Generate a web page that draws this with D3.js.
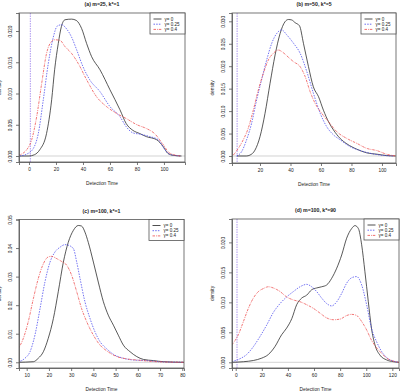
<!DOCTYPE html>
<html>
<head>
<meta charset="utf-8">
<script src="https://cdn.jsdelivr.net/npm/d3@7"></script>
<style>
  body { margin: 0; background: #fff; }
  svg { display: block; }
  text { font-family: "Liberation Sans", Arial, sans-serif; fill: #222; }
</style>
</head>
<body>
<svg id="chart" width="402" height="391"></svg>
<script>
// ---- data ----
var titles = ["(a) m=25, k*=1", "(b) m=50, k*=5", "(c) m=100, k*=1", "(d) m=100, k*=90"];
var legendLabels = ["\u03b3= 0", "\u03b3= 0.25", "\u03b3= 0.4"];
var kLine = [1, 5, null, 1];   // dashed vertical marker
var xTicks = [[0, 20, 40, 60, 80, 100], [20, 40, 60, 80, 100], [10, 20, 30, 40, 50, 60, 70, 80], [0, 20, 40, 60, 80, 100, 120]];
var yTicks = [[0, 0.005, 0.010, 0.015, 0.020], [0, 0.005, 0.010, 0.015, 0.020, 0.025, 0.030],
              [0, 0.01, 0.02, 0.03, 0.04, 0.05], [0, 0.005, 0.010, 0.015, 0.020]];
var yFormats = [".3f", ".3f", ".2f", ".3f"];

// [detection time, density]
var a0  = [[-7,0],[0,0],[4,0.0002],[8,0.001],[13,0.0036],[16.8,0.009],[19,0.0138],[21.7,0.018],[24,0.0207],[26.7,0.0218],[31.6,0.0219],[35,0.0217],[39,0.0204],[42.7,0.018],[46.4,0.0159],[52.6,0.0138],[60,0.0106],[67.4,0.0074],[72,0.0052],[77,0.0041],[82,0.0036],[87,0.0031],[94.6,0.0026],[99.5,0.0015],[103,0.0004],[107,0.0001],[113,0]];
var a25 = [[-7,0],[-1.7,0.0003],[3.2,0.0012],[6.9,0.0036],[10.6,0.009],[14.3,0.0148],[18,0.019],[21,0.0208],[24.2,0.021],[28,0.0203],[31.6,0.019],[35.3,0.017],[40,0.0143],[45,0.0122],[52.6,0.0103],[60,0.0079],[67.4,0.0063],[72,0.0047],[77,0.0037],[82,0.0035],[89.6,0.0031],[95.8,0.0026],[100.7,0.001],[104,0.0003],[112,0]];
var a40 = [[-8,0.0001],[-1.7,0.001],[2,0.0026],[5.7,0.0063],[9.4,0.0116],[13,0.0164],[15.6,0.018],[19,0.0186],[23,0.0185],[26.7,0.0175],[31.6,0.0164],[36.5,0.0148],[42.7,0.0122],[50,0.0095],[57.5,0.0079],[65,0.0068],[72,0.006],[80,0.005],[87,0.0044],[93,0.0036],[99.5,0.0018],[104,0.0005],[112,0]];

var b0  = [[5,0],[11,0],[13.4,0.0002],[16.7,0.0013],[20,0.0043],[23.3,0.0095],[26.6,0.0162],[29.9,0.0225],[33.2,0.0273],[36.4,0.0299],[38.6,0.0304],[40.8,0.0303],[43,0.0297],[45.9,0.029],[48.5,0.0251],[51.8,0.0199],[55,0.0154],[58.4,0.0132],[61.6,0.0102],[65,0.0076],[68.2,0.0058],[72.6,0.0039],[77,0.0027],[83.6,0.0015],[90,0.0007],[96.7,0.0004],[103,0.0001],[109,0]];
var b25 = [[4.7,0],[8,0.001],[11.2,0.0036],[14.5,0.0073],[17.8,0.0125],[21,0.0169],[24.4,0.0214],[27.7,0.0251],[31,0.0273],[34.2,0.0281],[37.5,0.027],[42,0.0251],[46.3,0.0229],[50.7,0.0188],[55,0.014],[59.5,0.0095],[63.8,0.0065],[68.2,0.0047],[72.6,0.0036],[79,0.0021],[85.8,0.0012],[92.3,0.0006],[99,0.0002],[107.7,0]];
var b40 = [[2.5,0.0002],[5.8,0.0017],[9,0.0036],[12.3,0.0062],[15.6,0.0102],[18.9,0.0147],[22.2,0.0184],[25.5,0.0214],[28.8,0.0229],[32,0.0236],[35.3,0.023],[38.6,0.022],[42,0.021],[46.3,0.0199],[49.6,0.0177],[52.9,0.0143],[56.2,0.0117],[60.5,0.0095],[65,0.0076],[70.4,0.0054],[77,0.0039],[83.6,0.0028],[90,0.0017],[96.7,0.0012],[103,0.0004],[109,0]];

var c0  = [[6,0],[13,0.0002],[15.2,0.0014],[17.5,0.0037],[19.7,0.0084],[22,0.0153],[24.2,0.0247],[26.5,0.0351],[28.7,0.042],[31,0.0462],[33.2,0.0479],[34.7,0.0477],[36.2,0.0456],[37.7,0.042],[40,0.0351],[42.2,0.0281],[44.5,0.0212],[46.7,0.0165],[49,0.013],[51.2,0.0095],[53.5,0.006],[56.5,0.0037],[59.5,0.002],[62.5,0.001],[67,0.0006],[71.5,0.0002],[81,0]];
var c25 = [[6,0.0001],[9.2,0.0014],[11.5,0.0037],[13.7,0.0095],[16,0.0188],[18.2,0.0281],[20.5,0.0351],[22.7,0.0386],[25,0.0403],[27.2,0.0412],[28.7,0.041],[31,0.0398],[32.5,0.0351],[34,0.0293],[36.2,0.0212],[38.5,0.0153],[40.7,0.0107],[43,0.0072],[46,0.0047],[49,0.0028],[53.5,0.0014],[58,0.0008],[64,0.0006],[70,0.0002],[81,0]];
var c40 = [[6,0.0045],[8.5,0.0084],[10.7,0.0142],[13,0.0223],[15.2,0.0293],[17.5,0.0345],[19.7,0.0369],[21.2,0.0371],[23.5,0.0363],[25.7,0.0353],[28,0.034],[30.2,0.0305],[32.5,0.0247],[34.7,0.0188],[37,0.0142],[40,0.0095],[43,0.006],[46,0.004],[50.5,0.002],[55,0.0012],[61,0.0007],[68.5,0.0002],[81,0]];

var d0  = [[-3,0],[5.9,0.0001],[13.5,0.0003],[20,0.0007],[25,0.0013],[30,0.0026],[35.2,0.0046],[39,0.0057],[43,0.0073],[46.7,0.0096],[50.5,0.0107],[54.4,0.0112],[58.2,0.0121],[62,0.0124],[65.9,0.0126],[69.7,0.0129],[73.5,0.014],[77.4,0.0157],[81.2,0.0179],[85,0.0207],[88.8,0.0223],[91.4,0.0228],[94,0.0223],[96.5,0.0196],[99,0.0151],[101.6,0.0101],[104,0.0057],[106.7,0.0029],[110.5,0.0012],[115.6,0.0004],[120.8,0.0001],[125,0]];
var d25 = [[-3,0.0001],[3.3,0.0006],[8.4,0.0013],[13.5,0.0026],[18.6,0.0043],[23.7,0.0062],[28.8,0.0083],[34,0.0098],[39,0.0109],[44.2,0.0118],[49.3,0.0126],[54.4,0.013],[58.2,0.0126],[62,0.0118],[65.9,0.0107],[69.7,0.0098],[73.5,0.0094],[77.4,0.0101],[81.2,0.0115],[85,0.0132],[88.8,0.0141],[92.7,0.0143],[96.5,0.0129],[100.3,0.0096],[104,0.0057],[108,0.0034],[111.8,0.0018],[115.6,0.0008],[120.8,0.0002],[125,0]];
var d40 = [[-3,0.0029],[2,0.0046],[5.9,0.0068],[9.7,0.009],[13.5,0.0107],[17.4,0.0118],[21.2,0.0123],[25,0.0126],[28.8,0.0124],[34,0.0118],[39,0.0109],[44.2,0.0104],[49.3,0.0101],[54.4,0.0096],[59.5,0.009],[64.6,0.0082],[69.7,0.0074],[74.8,0.0071],[79.9,0.0072],[85,0.0078],[88.8,0.008],[92.7,0.0078],[96.5,0.0068],[100.3,0.0054],[104,0.0037],[108,0.0024],[111.8,0.0015],[115.6,0.0007],[120.8,0.0002],[125,0]];

var curves = [[a0, a25, a40], [b0, b25, b40], [c0, c25, c40], [d0, d25, d40]];

// ---- layout (pixel boxes and axis limits of each panel) ----
var boxes = [
  { x0: 19,  x1: 185, y0: 13,  y1: 162, xd: [-7.4, 115.6], yd: [-0.00096, 0.02288] },
  { x0: 232, x1: 396, y0: 13,  y1: 163, xd: [1.64, 109.2], yd: [-0.00156, 0.03185] },
  { x0: 19,  x1: 184, y0: 219.5, y1: 368, xd: [6.54, 80.76], yd: [-0.002, 0.05] },
  { x0: 232, x1: 399, y0: 219, y1: 368, xd: [-2.84, 125.1], yd: [-0.00095, 0.0239] }
];
var styles = [
  { stroke: "#222", dash: null },
  { stroke: "#4646ee", dash: "1.5,1.2" },
  { stroke: "#ee4a4a", dash: "2.5,1,0.8,1" }
];

var svg = d3.select("#chart");

boxes.forEach(function (b, i) {
  var x = d3.scaleLinear().domain(b.xd).range([b.x0, b.x1]);
  var y = d3.scaleLinear().domain(b.yd).range([b.y1, b.y0]);
  var g = svg.append("g");

  g.append("clipPath").attr("id", "clip" + i)
    .append("rect").attr("x", b.x0).attr("y", b.y0)
    .attr("width", b.x1 - b.x0).attr("height", b.y1 - b.y0);

  var plot = g.append("g").attr("clip-path", "url(#clip" + i + ")");

  // grey zero line
  plot.append("line")
    .attr("x1", b.x0).attr("x2", b.x1)
    .attr("y1", y(0)).attr("y2", y(0))
    .attr("stroke", "#c8c8c8").attr("stroke-width", 0.8);

  // k* marker
  if (kLine[i] !== null) {
    plot.append("line")
      .attr("x1", x(kLine[i])).attr("x2", x(kLine[i]))
      .attr("y1", b.y0).attr("y2", b.y1)
      .attr("stroke", "#a58ced").attr("stroke-width", 0.9)
      .attr("stroke-dasharray", "1.5,1");
  }

  var line = d3.line()
    .x(function (d) { return x(d[0]); })
    .y(function (d) { return y(d[1]); })
    .curve(d3.curveMonotoneX);

  curves[i].forEach(function (c, j) {
    plot.append("path")
      .attr("d", line(c))
      .attr("fill", "none")
      .attr("stroke", styles[j].stroke)
      .attr("stroke-width", 0.75)
      .attr("stroke-dasharray", styles[j].dash);
  });

  // frame
  g.append("rect")
    .attr("x", b.x0).attr("y", b.y0)
    .attr("width", b.x1 - b.x0).attr("height", b.y1 - b.y0)
    .attr("fill", "none").attr("stroke", "#555").attr("stroke-width", 0.8);

  // x axis
  var xa = g.append("g").attr("transform", "translate(0," + b.y1 + ")")
    .call(d3.axisBottom(x).tickValues(xTicks[i]).tickSize(3).tickPadding(2.5).tickFormat(d3.format("d")));
  xa.select(".domain").attr("stroke", "#555").attr("stroke-width", 0.8);
  xa.selectAll(".tick line").attr("stroke", "#555").attr("stroke-width", 0.8);
  xa.selectAll("text").attr("font-size", 4.8).attr("fill", "#222");

  // y axis with rotated labels
  var ya = g.append("g").attr("transform", "translate(" + b.x0 + ",0)")
    .call(d3.axisLeft(y).tickValues(yTicks[i]).tickSize(3).tickFormat(d3.format(yFormats[i])));
  ya.select(".domain").attr("stroke", "#555").attr("stroke-width", 0.8);
  ya.selectAll(".tick line").attr("stroke", "#555").attr("stroke-width", 0.8);
  ya.selectAll("text")
    .attr("font-size", 4.8).attr("fill", "#222")
    .attr("x", null)
    .attr("text-anchor", "middle")
    .attr("transform", "translate(-8.5,0) rotate(-90)")
    .attr("dy", "0.35em");

  // title and axis labels
  g.append("text")
    .attr("x", (b.x0 + b.x1) / 2).attr("y", b.y0 - 7)
    .attr("text-anchor", "middle").attr("font-size", 5.2).attr("font-weight", "bold")
    .text(titles[i]);
  g.append("text")
    .attr("x", (b.x0 + b.x1) / 2).attr("y", b.y1 + 22.5)
    .attr("text-anchor", "middle").attr("font-size", 4.8)
    .text("Detection Time");
  g.append("text")
    .attr("transform", "translate(" + (b.x0 - 20) + "," + ((b.y0 + b.y1) / 2) + ") rotate(-90)")
    .attr("text-anchor", "middle").attr("dy", "0.35em").attr("font-size", 4.8)
    .text("density");

  // legend (top right)
  var lw = 35, lh = 21;
  var lg = g.append("g").attr("transform", "translate(" + (b.x1 - lw) + "," + b.y0 + ")");
  lg.append("rect").attr("width", lw).attr("height", lh)
    .attr("fill", "#fff").attr("stroke", "#555").attr("stroke-width", 0.8);
  legendLabels.forEach(function (lab, j) {
    var ly = 6 + j * 5.2;
    lg.append("line").attr("x1", 3.5).attr("x2", 11.5).attr("y1", ly).attr("y2", ly)
      .attr("stroke", styles[j].stroke).attr("stroke-width", 0.8)
      .attr("stroke-dasharray", styles[j].dash);
    lg.append("text").attr("x", 14.5).attr("y", ly).attr("dy", "0.35em")
      .attr("font-size", 4.5).text(lab);
  });
});
</script>
</body>
</html>
